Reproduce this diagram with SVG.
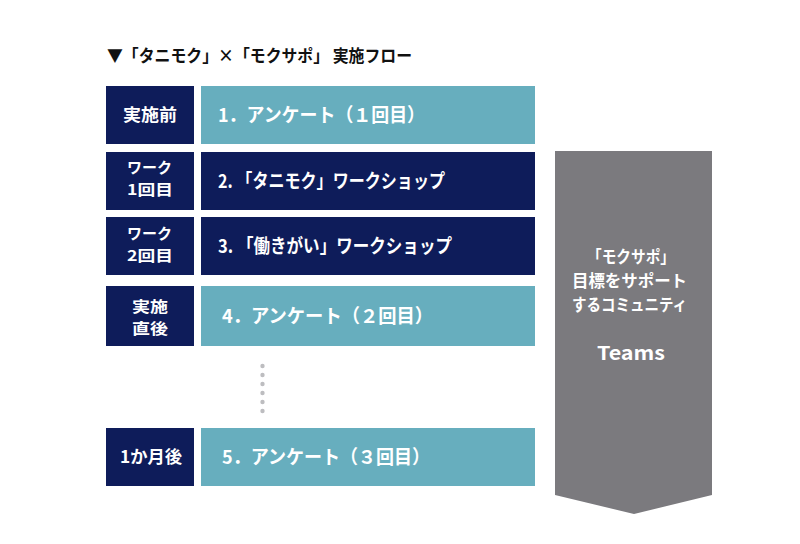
<svg xmlns="http://www.w3.org/2000/svg" width="800" height="544" viewBox="0 0 800 544">
<style>
.t{font-family:"Noto Sans CJK JP","Liberation Sans",sans-serif;font-weight:bold;}
.navy{fill:#0e1c5a;}
.teal{fill:#67aebe;}
.lt{font-size:15px;fill:#ffffff;}
.lt1{font-size:17px;fill:#ffffff;}
.rt{font-size:19px;fill:#ffffff;}
.at{font-size:16.5px;fill:#ffffff;}
.dot{fill:#bdbdc0;}
</style>
<rect width="800" height="544" fill="#ffffff"/>
<text class="t" x="107" y="62" font-size="17" fill="#111111" textLength="305" lengthAdjust="spacingAndGlyphs">▼「タニモク」×「モクサポ」 実施フロー</text>
<g id="arrow">
<polygon points="555,151 712,151 712,495 634,514 555,495" fill="#7b7a7e"/>
<text class="t at" x="587" y="263" textLength="88" lengthAdjust="spacingAndGlyphs">「モクサポ」</text>
<text class="t at" x="572" y="287" textLength="115" lengthAdjust="spacingAndGlyphs">目標をサポート</text>
<text class="t at" x="572" y="311" textLength="115" lengthAdjust="spacingAndGlyphs">するコミュニティ</text>
<text class="t" x="597" y="360" font-size="19" fill="#ffffff" textLength="68" lengthAdjust="spacingAndGlyphs">Teams</text>
</g>
<g id="row1">
<rect class="navy" x="106" y="86" width="88" height="58"/>
<text class="t lt1" x="123" y="121" textLength="54" lengthAdjust="spacingAndGlyphs">実施前</text>
<rect class="teal" x="201" y="86" width="334" height="58"/>
<text class="t rt" x="218" y="122" textLength="207" lengthAdjust="spacingAndGlyphs">1．アンケート（１回目）</text>
</g>
<g id="row2">
<rect class="navy" x="106" y="152" width="88" height="58"/>
<text class="t lt" x="127" y="173" textLength="45" lengthAdjust="spacingAndGlyphs">ワーク</text>
<text class="t lt" x="127" y="195" textLength="46" lengthAdjust="spacingAndGlyphs">1回目</text>
<rect class="navy" x="201" y="152" width="334" height="58"/>
<text class="t rt" x="218" y="188" textLength="227" lengthAdjust="spacingAndGlyphs">2. 「タニモク」ワークショップ</text>
</g>
<g id="row3">
<rect class="navy" x="106" y="217" width="88" height="58"/>
<text class="t lt" x="127" y="239" textLength="45" lengthAdjust="spacingAndGlyphs">ワーク</text>
<text class="t lt" x="127" y="261" textLength="46" lengthAdjust="spacingAndGlyphs">2回目</text>
<rect class="navy" x="201" y="217" width="334" height="58"/>
<text class="t rt" x="218" y="253" textLength="234" lengthAdjust="spacingAndGlyphs">3. 「働きがい」ワークショップ</text>
</g>
<g id="row4">
<rect class="navy" x="106" y="286" width="88" height="60"/>
<text class="t lt" x="132" y="312" textLength="36" lengthAdjust="spacingAndGlyphs">実施</text>
<text class="t lt" x="132" y="334" textLength="36" lengthAdjust="spacingAndGlyphs">直後</text>
<rect class="teal" x="201" y="286" width="334" height="60"/>
<text class="t rt" x="222" y="323" textLength="211" lengthAdjust="spacingAndGlyphs">4．アンケート（２回目）</text>
</g>
<g id="dots">
<circle class="dot" cx="262.5" cy="366" r="2.2"/>
<circle class="dot" cx="262.5" cy="375" r="2.2"/>
<circle class="dot" cx="262.5" cy="384" r="2.2"/>
<circle class="dot" cx="262.5" cy="393" r="2.2"/>
<circle class="dot" cx="262.5" cy="402" r="2.2"/>
<circle class="dot" cx="262.5" cy="411" r="2.2"/>
</g>
<g id="row5">
<rect class="navy" x="106" y="428" width="88" height="58"/>
<text class="t lt1" x="120" y="463" textLength="62" lengthAdjust="spacingAndGlyphs">1か月後</text>
<rect class="teal" x="201" y="428" width="334" height="58"/>
<text class="t rt" x="222" y="464" textLength="208" lengthAdjust="spacingAndGlyphs">5．アンケート（３回目）</text>
</g>
<g id="connectors"></g>
</svg>
